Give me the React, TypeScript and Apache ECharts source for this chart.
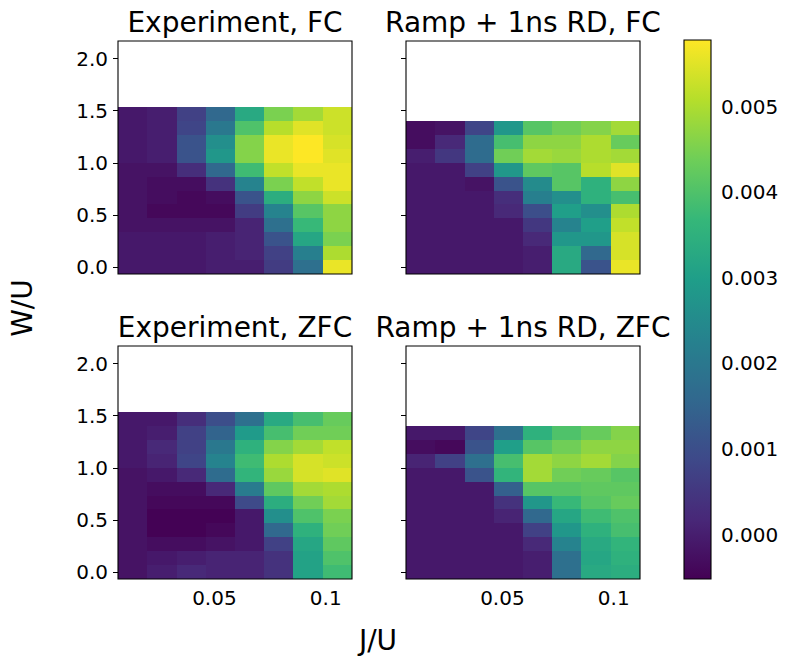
import React, { useEffect, useRef } from "react";
import * as echarts from "echarts";

// ---- data ----
// cell edges along J/U (8 columns) and W/U (rows, listed from top to bottom)
const J_EDGES = [0.0067, 0.0198, 0.033, 0.0461, 0.0593, 0.0724, 0.0855, 0.0987, 0.1118];
const W_EDGES_EXP = [1.5333, 1.4, 1.2667, 1.1333, 1.0, 0.8667, 0.7333, 0.6, 0.4667, 0.3333, 0.2, 0.0667, -0.0667];
const W_EDGES_RAMP = [1.4, 1.2667, 1.1333, 1.0, 0.8667, 0.7333, 0.6, 0.4667, 0.3333, 0.2, 0.0667, -0.0667];

// rows from top (largest W/U) to bottom (W/U = 0), columns follow J/U
const EXP_FC = [
  [-0.0001, 0.0, 0.0007, 0.0016, 0.0033, 0.0045, 0.0049, 0.0053],
  [-0.0001, 0.0, 0.0008, 0.002, 0.004, 0.0051, 0.0055, 0.0053],
  [-0.0001, 0.0, 0.0011, 0.0026, 0.0046, 0.0056, 0.0058, 0.0054],
  [-0.0001, 0.0, 0.0011, 0.0028, 0.0046, 0.0056, 0.0058, 0.0055],
  [-0.0002, -0.0002, 0.0003, 0.0016, 0.0038, 0.0052, 0.0056, 0.0056],
  [-0.0002, -0.0003, -0.0003, 0.0004, 0.0023, 0.0045, 0.0052, 0.0056],
  [-0.0002, -0.0003, -0.0004, -0.0003, 0.0011, 0.0034, 0.0047, 0.0053],
  [-0.0002, -0.0004, -0.0004, -0.0004, 0.0006, 0.0023, 0.0041, 0.0047],
  [-0.0002, -0.0002, -0.0002, -0.0002, 0.0001, 0.0018, 0.0037, 0.0047],
  [-0.0001, -0.0001, -0.0001, 0.0, 0.0001, 0.0011, 0.0032, 0.0045],
  [-0.0001, -0.0001, -0.0001, 0.0, 0.0001, 0.0007, 0.0022, 0.005],
  [-0.0001, -0.0001, -0.0001, 0.0, 0.0, 0.0006, 0.0018, 0.0056],
];
const RAMP_FC = [
  [-0.0003, -0.0002, 0.0008, 0.0028, 0.0041, 0.0044, 0.0046, 0.0049],
  [-0.0003, 0.0002, 0.0017, 0.0039, 0.0047, 0.0047, 0.005, 0.0043],
  [0.0, 0.0005, 0.0017, 0.0044, 0.0049, 0.0048, 0.005, 0.0049],
  [-0.0001, -0.0001, 0.0007, 0.0028, 0.0042, 0.0041, 0.0051, 0.0055],
  [-0.0001, -0.0001, -0.0002, 0.0011, 0.0025, 0.0041, 0.0035, 0.0047],
  [-0.0001, -0.0001, -0.0001, 0.0003, 0.0022, 0.0026, 0.0035, 0.0039],
  [-0.0001, -0.0001, -0.0001, 0.0002, 0.001, 0.003, 0.0026, 0.005],
  [-0.0001, -0.0001, -0.0001, -0.0001, 0.0005, 0.0023, 0.003, 0.0052],
  [-0.0001, -0.0001, -0.0001, -0.0001, 0.0002, 0.0028, 0.0028, 0.0054],
  [-0.0001, -0.0001, -0.0001, -0.0001, 0.0, 0.0033, 0.0016, 0.0054],
  [-0.0001, -0.0001, -0.0001, -0.0001, 0.0, 0.0033, 0.0011, 0.0056],
];
const EXP_ZFC = [
  [-0.0001, -0.0001, 0.0003, 0.001, 0.0018, 0.0033, 0.0039, 0.0043],
  [-0.0001, 0.0, 0.0007, 0.0015, 0.0029, 0.0039, 0.0044, 0.0044],
  [-0.0001, 0.0002, 0.0007, 0.002, 0.0035, 0.0046, 0.0049, 0.0052],
  [-0.0001, 0.0001, 0.0008, 0.0023, 0.0038, 0.005, 0.0054, 0.0053],
  [-0.0002, -0.0001, 0.0002, 0.0017, 0.0036, 0.0048, 0.0054, 0.0055],
  [-0.0002, -0.0003, -0.0003, 0.0002, 0.0021, 0.0042, 0.0049, 0.005],
  [-0.0002, -0.0004, -0.0004, -0.0004, 0.0009, 0.0034, 0.0044, 0.0049],
  [-0.0002, -0.0005, -0.0005, -0.0005, -0.0001, 0.0026, 0.004, 0.0045],
  [-0.0002, -0.0005, -0.0005, -0.0004, -0.0001, 0.0016, 0.0035, 0.0044],
  [-0.0002, -0.0003, -0.0003, -0.0002, -0.0001, 0.0007, 0.0032, 0.0042],
  [-0.0002, -0.0001, 0.0, 0.0001, 0.0001, 0.0004, 0.0031, 0.004],
  [-0.0002, 0.0, 0.0002, 0.0001, 0.0001, 0.0004, 0.0031, 0.0038],
];
const RAMP_ZFC = [
  [-0.0001, -0.0001, 0.0008, 0.0018, 0.0035, 0.004, 0.0043, 0.0046],
  [-0.0003, -0.0004, 0.0011, 0.003, 0.0041, 0.0044, 0.0047, 0.0047],
  [0.0001, 0.0007, 0.0018, 0.0039, 0.0049, 0.0047, 0.0049, 0.0046],
  [-0.0001, -0.0001, 0.0011, 0.0036, 0.0049, 0.0044, 0.0043, 0.0041],
  [-0.0001, -0.0001, -0.0001, 0.0014, 0.0041, 0.0041, 0.0042, 0.0042],
  [-0.0001, -0.0001, -0.0001, 0.0004, 0.0028, 0.0037, 0.0041, 0.0043],
  [-0.0001, -0.0001, -0.0001, 0.0001, 0.0016, 0.0032, 0.0038, 0.004],
  [-0.0001, -0.0001, -0.0001, -0.0001, 0.0007, 0.0028, 0.0035, 0.0039],
  [-0.0001, -0.0001, -0.0001, -0.0001, 0.0002, 0.0023, 0.0033, 0.0036],
  [-0.0001, -0.0001, -0.0001, -0.0001, 0.0, 0.0018, 0.0032, 0.0035],
  [-0.0001, -0.0001, -0.0001, -0.0001, 0.0, 0.0018, 0.0033, 0.0034],
];

const TITLES = ["Experiment, FC", "Ramp + 1ns RD, FC", "Experiment, ZFC", "Ramp + 1ns RD, ZFC"];
const X_TICKS = [0.025, 0.05, 0.075, 0.1];
const X_LABELS = [0.05, 0.1];
const Y_TICKS = [0, 0.5, 1, 1.5, 2];
const CB_TICKS = [0, 0.001, 0.002, 0.003, 0.004, 0.005];
const X_RANGE = [0.0067, 0.1118];
const Y_RANGE = [-0.067, 2.168];
const CB_RANGE = [-0.00052, 0.00578];
const X_NAME = "J/U";
const Y_NAME = "W/U";

const VIRIDIS = [
  "#440154", "#482878", "#3e4989", "#31688e", "#26828e",
  "#1f9e89", "#35b779", "#6ece58", "#b5de2b", "#fde725",
];

// ---- layout ----
const FONT = "DejaVu Sans";
const COL_LEFT = [118, 406];
const ROW_TOP = [41, 346];
const PW = 234;
const PH = 233;
const CB = { left: 684, top: 40, width: 27, height: 539 };

function toCells(matrix: number[][], wEdges: number[]) {
  const out: number[][] = [];
  matrix.forEach((row, i) => {
    row.forEach((v, j) => {
      out.push([J_EDGES[j], J_EDGES[j + 1], wEdges[i + 1], wEdges[i], v]);
    });
  });
  return out;
}

const PANEL_DATA = [
  { m: EXP_FC, w: W_EDGES_EXP },
  { m: RAMP_FC, w: W_EDGES_RAMP },
  { m: EXP_ZFC, w: W_EDGES_EXP },
  { m: RAMP_ZFC, w: W_EDGES_RAMP },
];

export default function App() {
  const ref = useRef<HTMLDivElement>(null);

  useEffect(() => {
    if (!ref.current) return;
    const chart = echarts.init(ref.current, undefined, { renderer: "svg" });

    const grids: any[] = [];
    const xAxes: any[] = [];
    const yAxes: any[] = [];
    const series: any[] = [];
    const graphics: any[] = [];

    for (let p = 0; p < 4; p++) {
      const col = p % 2;
      const row = Math.floor(p / 2);
      const left = COL_LEFT[col];
      const top = ROW_TOP[row];
      grids.push({ left, top, width: PW, height: PH, containLabel: false });
      xAxes.push({
        gridIndex: p,
        type: "value",
        min: X_RANGE[0],
        max: X_RANGE[1],
        axisLine: { show: false },
        splitLine: { show: false },
        axisTick: {
          show: true,
          customValues: X_TICKS,
          length: 5,
          lineStyle: { color: "#000", width: 1 },
        },
        axisLabel: {
          show: row === 1,
          customValues: X_LABELS,
          formatter: (v: number) => String(v),
          fontSize: 20,
          fontFamily: FONT,
          color: "#000",
          margin: 9,
        },
      });
      yAxes.push({
        gridIndex: p,
        type: "value",
        min: Y_RANGE[0],
        max: Y_RANGE[1],
        axisLine: { show: false },
        splitLine: { show: false },
        axisTick: {
          show: true,
          customValues: Y_TICKS,
          length: 5,
          lineStyle: { color: "#000", width: 1 },
        },
        axisLabel: {
          show: col === 0,
          customValues: Y_TICKS,
          formatter: (v: number) => v.toFixed(1),
          fontSize: 20,
          fontFamily: FONT,
          color: "#000",
          margin: 10,
        },
      });
      series.push({
        type: "custom",
        xAxisIndex: p,
        yAxisIndex: p,
        clip: true,
        encode: { x: [0, 1], y: [2, 3] },
        data: toCells(PANEL_DATA[p].m, PANEL_DATA[p].w),
        renderItem: (params: any, api: any) => {
          const a = api.coord([api.value(0), api.value(3)]);
          const b = api.coord([api.value(1), api.value(2)]);
          const x0 = Math.round(a[0]);
          const y0 = Math.round(a[1]);
          const x1 = Math.round(b[0]);
          const y1 = Math.round(b[1]);
          return {
            type: "rect",
            shape: { x: x0, y: y0, width: x1 - x0, height: y1 - y0 },
            style: { fill: api.visual("color"), stroke: null },
          };
        },
      });
      graphics.push({
        type: "rect",
        z: 100,
        shape: { x: left, y: top, width: PW, height: PH },
        style: { fill: "none", stroke: "#000", lineWidth: 1.1 },
      });
      graphics.push({
        type: "text",
        z: 100,
        x: left + PW / 2,
        y: top - 19,
        style: {
          text: TITLES[p],
          fontSize: 28,
          fontFamily: FONT,
          fill: "#000",
          align: "center",
          verticalAlign: "middle",
        },
      });
    }

    // colorbar
    grids.push({ left: CB.left, top: CB.top, width: CB.width, height: CB.height });
    xAxes.push({ gridIndex: 4, type: "value", min: 0, max: 1, show: false });
    yAxes.push({
      gridIndex: 4,
      type: "value",
      position: "right",
      min: CB_RANGE[0],
      max: CB_RANGE[1],
      axisLine: { show: false },
      splitLine: { show: false },
      axisTick: {
        show: true,
        customValues: CB_TICKS,
        length: 5,
        lineStyle: { color: "#000", width: 1 },
      },
      axisLabel: {
        customValues: CB_TICKS,
        formatter: (v: number) => v.toFixed(3),
        fontSize: 20,
        fontFamily: FONT,
        color: "#000",
        margin: 10,
      },
    });
    series.push({
      type: "custom",
      xAxisIndex: 4,
      yAxisIndex: 4,
      data: [[0, 0]],
      renderItem: (params: any, api: any) => {
        const a = api.coord([0, CB_RANGE[1]]);
        const b = api.coord([1, CB_RANGE[0]]);
        return {
          type: "rect",
          shape: { x: a[0], y: a[1], width: b[0] - a[0], height: b[1] - a[1] },
          style: {
            fill: new echarts.graphic.LinearGradient(
              0, 1, 0, 0,
              VIRIDIS.map((c, i) => ({ offset: i / (VIRIDIS.length - 1), color: c }))
            ),
          },
        };
      },
    });
    graphics.push({
      type: "rect",
      z: 100,
      shape: { x: CB.left, y: CB.top, width: CB.width, height: CB.height },
      style: { fill: "none", stroke: "#000", lineWidth: 1.1 },
    });

    graphics.push({
      type: "text",
      x: 22,
      y: 308,
      rotation: Math.PI / 2,
      style: {
        text: Y_NAME,
        fontSize: 28,
        fontFamily: FONT,
        fill: "#000",
        align: "center",
        verticalAlign: "middle",
      },
    });
    graphics.push({
      type: "text",
      x: 378,
      y: 640,
      style: {
        text: X_NAME,
        fontSize: 28,
        fontFamily: FONT,
        fill: "#000",
        align: "center",
        verticalAlign: "middle",
      },
    });

    chart.setOption({
      animation: false,
      backgroundColor: "#fff",
      grid: grids,
      xAxis: xAxes,
      yAxis: yAxes,
      visualMap: {
        type: "continuous",
        show: false,
        min: CB_RANGE[0],
        max: CB_RANGE[1],
        dimension: 4,
        seriesIndex: [0, 1, 2, 3],
        inRange: { color: VIRIDIS },
      },
      series,
      graphic: graphics,
    });

    return () => chart.dispose();
  }, []);

  return (
    <div
      ref={ref}
      style={{ position: "absolute", left: 0, top: 0, width: 794, height: 666 }}
    />
  );
}
